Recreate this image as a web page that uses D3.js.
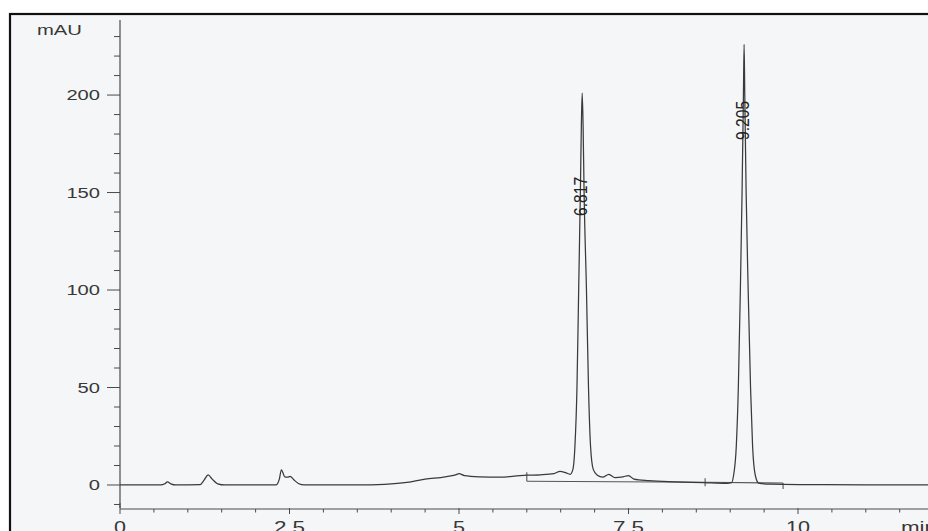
<!DOCTYPE html>
<html>
<head>
<meta charset="utf-8">
<script src="https://cdn.jsdelivr.net/npm/d3@7"></script>
<style>
    html, body { margin: 0; padding: 0; background: #ffffff; }
    svg { display: block; }
    .tick-label { font-family: "Liberation Sans", Arial, sans-serif; fill: #383838; }
</style>
</head>
<body>
<div id="chart"></div>
<script>
// chromatogram trace: time (min) / signal (mAU)
const traceTime = [
    0, 0.6, 0.66, 0.7, 0.75, 0.82,
    1.18, 1.24, 1.3, 1.36, 1.44, 1.55,
    2.3, 2.35, 2.38, 2.43, 2.47, 2.51, 2.56, 2.63, 2.72,
    3.5, 3.9, 4.2, 4.5, 4.8, 4.95, 5.0, 5.08, 5.3, 5.6, 5.9, 6.0, 6.2, 6.4, 6.49, 6.58, 6.64,
    6.68, 6.71, 6.74, 6.765, 6.79, 6.805, 6.817, 6.83, 6.845, 6.88, 6.91, 6.94, 6.98,
    7.04, 7.12, 7.21, 7.3, 7.42, 7.5, 7.58, 7.8, 8.2, 8.6, 8.95,
    9.02, 9.05, 9.09, 9.12, 9.15, 9.175, 9.195, 9.205, 9.215, 9.235, 9.265, 9.3, 9.33, 9.37, 9.42,
    9.6, 10.2, 11.0, 12.0
];
const traceValue = [
    0, 0, 0.6, 1.6, 0.6, 0,
    0.2, 2.5, 5.2, 3, 0.6, 0,
    0, 3, 7.8, 4.2, 4, 4.4, 2.8, 0.8, 0,
    0, 0.3, 1.2, 3, 4.2, 5.2, 5.8, 4.8, 4.2, 4, 4.8, 5, 5.2, 5.8, 7, 6.2, 5.5,
    8, 20, 50, 100, 150, 185, 201, 185, 150, 100, 50, 20, 8,
    5, 4, 5.5, 3.8, 4.2, 4.8, 3, 2.2, 1.6, 1.2, 0.8,
    1.2, 5, 20, 50, 100, 150, 200, 226, 200, 150, 100, 50, 20, 5, 1,
    0.4, 0.2, 0, 0.1
];

// integration baselines drawn by the data system
const baseStart = [6.0, 8.63];
const baseStartVal = [1.9, 1.4];
const baseEnd = [8.63, 9.78];
const baseEndVal = [1.4, 1.0];

// retention time labels
const peakTimes = [6.817, 9.205];
const peakNames = ["6.817", "9.205"];
const peakLabelAt = [148, 187];   // mAU level of label centre

const yMajor = [0, 50, 100, 150, 200];
const xMajor = [0, 2.5, 5, 7.5, 10];
const xMajorNames = ["0", "2.5", "5", "7.5", "10"];

const width = 928, height = 531;

// the scanned printout uses a wide sans face; stretch glyphs to that width
function wideLength(s, digit) {
    let w = 0;
    for (const c of s) w += (c === ".") ? digit * 0.6 : digit;
    return w;
}

const svg = d3.select("#chart").append("svg")
    .attr("width", width)
    .attr("height", height);

// paper + frame
svg.append("rect")
    .attr("x", 10).attr("y", 14)
    .attr("width", 940).attr("height", 540)
    .attr("fill", "#f4f6f7")
    .attr("stroke", "#111")
    .attr("stroke-width", 2.2);

const x = d3.scaleLinear().domain([0, 12]).range([120, 120 + 12 * 67.8]);
const y = d3.scaleLinear().domain([-11.8, 238.5]).range([508, 20]);

const axisColor = "#4a4a4a";

// y axis
svg.append("line")
    .attr("x1", 120).attr("x2", 120)
    .attr("y1", y(238.5)).attr("y2", y(-11.8))
    .attr("stroke", axisColor).attr("stroke-width", 1.2);

const yMinor = d3.range(-10, 231, 10).filter(v => v % 50 !== 0);
svg.append("g").selectAll("line")
    .data(yMinor)
    .join("line")
    .attr("x1", 114).attr("x2", 120)
    .attr("y1", d => y(d)).attr("y2", d => y(d))
    .attr("stroke", axisColor).attr("stroke-width", 1);

svg.append("g").selectAll("line")
    .data(yMajor)
    .join("line")
    .attr("x1", 107).attr("x2", 120)
    .attr("y1", d => y(d)).attr("y2", d => y(d))
    .attr("stroke", axisColor).attr("stroke-width", 1);

svg.append("g").selectAll("text")
    .data(yMajor)
    .join("text")
    .attr("class", "tick-label")
    .attr("x", 100)
    .attr("y", d => y(d))
    .attr("dy", "0.36em")
    .attr("text-anchor", "end")
    .attr("font-size", 15)
    .attr("textLength", d => wideLength(String(d), 11.2))
    .attr("lengthAdjust", "spacingAndGlyphs")
    .text(d => d);

svg.append("text")
    .attr("class", "tick-label")
    .attr("x", 37).attr("y", 35)
    .attr("font-size", 14.5)
    .attr("textLength", 45)
    .attr("lengthAdjust", "spacingAndGlyphs")
    .text("mAU");

// x axis
svg.append("line")
    .attr("x1", 120).attr("x2", width)
    .attr("y1", 509).attr("y2", 509)
    .attr("stroke", axisColor).attr("stroke-width", 1.2);

const xMinor = d3.range(0.5, 12.01, 0.5).filter(v => v % 2.5 !== 0);
svg.append("g").selectAll("line")
    .data(xMinor)
    .join("line")
    .attr("x1", d => x(d)).attr("x2", d => x(d))
    .attr("y1", 509).attr("y2", 512.5)
    .attr("stroke", axisColor).attr("stroke-width", 1);

svg.append("g").selectAll("line")
    .data(xMajor)
    .join("line")
    .attr("x1", d => x(d)).attr("x2", d => x(d))
    .attr("y1", d => d === 0 ? 503 : 508).attr("y2", 514)
    .attr("stroke", axisColor).attr("stroke-width", 1);

svg.append("g").selectAll("text")
    .data(xMajor)
    .join("text")
    .attr("class", "tick-label")
    .attr("x", d => x(d))
    .attr("y", 533)
    .attr("text-anchor", "middle")
    .attr("font-size", 16)
    .attr("textLength", (d, i) => wideLength(xMajorNames[i], 12))
    .attr("lengthAdjust", "spacingAndGlyphs")
    .text((d, i) => xMajorNames[i]);

svg.append("text")
    .attr("class", "tick-label")
    .attr("x", 901).attr("y", 533)
    .attr("font-size", 16)
    .attr("textLength", 36)
    .attr("lengthAdjust", "spacingAndGlyphs")
    .text("min");

// integration baselines + their end marks
const segs = baseStart.map((t, i) => ({t0: t, v0: baseStartVal[i], t1: baseEnd[i], v1: baseEndVal[i]}));
svg.append("g").selectAll("line")
    .data(segs)
    .join("line")
    .attr("x1", d => x(d.t0)).attr("y1", d => y(d.v0))
    .attr("x2", d => x(d.t1)).attr("y2", d => y(d.v1))
    .attr("stroke", "#555").attr("stroke-width", 1.1);

svg.append("line")
    .attr("x1", x(baseStart[0])).attr("x2", x(baseStart[0]))
    .attr("y1", y(baseStartVal[0])).attr("y2", y(baseStartVal[0]) - 9)
    .attr("stroke", "#555").attr("stroke-width", 1.1);
svg.append("line")
    .attr("x1", x(baseEnd[0])).attr("x2", x(baseEnd[0]))
    .attr("y1", y(baseEndVal[0]) - 4).attr("y2", y(baseEndVal[0]) + 4)
    .attr("stroke", "#555").attr("stroke-width", 1.1);
svg.append("line")
    .attr("x1", x(baseEnd[1])).attr("x2", x(baseEnd[1]))
    .attr("y1", y(baseEndVal[1])).attr("y2", y(baseEndVal[1]) + 6)
    .attr("stroke", "#555").attr("stroke-width", 1.1);

// signal trace
const pts = traceTime.map((t, i) => [t, traceValue[i]]);
const line = d3.line()
    .x(d => x(d[0]))
    .y(d => y(d[1]))
    .curve(d3.curveMonotoneX);

svg.append("path")
    .datum(pts)
    .attr("fill", "none")
    .attr("stroke", "#3a3a3a")
    .attr("stroke-width", 1.25)
    .attr("stroke-linejoin", "round")
    .attr("d", line);

// retention time labels, rotated
svg.append("g").selectAll("text")
    .data(peakTimes)
    .join("text")
    .attr("class", "tick-label")
    .attr("transform", (d, i) => "translate(" + (x(d) + 5) + "," + y(peakLabelAt[i]) + ") rotate(-90)")
    .attr("text-anchor", "middle")
    .attr("font-size", 18)
    .attr("textLength", 39)
    .attr("lengthAdjust", "spacingAndGlyphs")
    .style("fill", "#222")
    .text((d, i) => peakNames[i]);
</script>
</body>
</html>
